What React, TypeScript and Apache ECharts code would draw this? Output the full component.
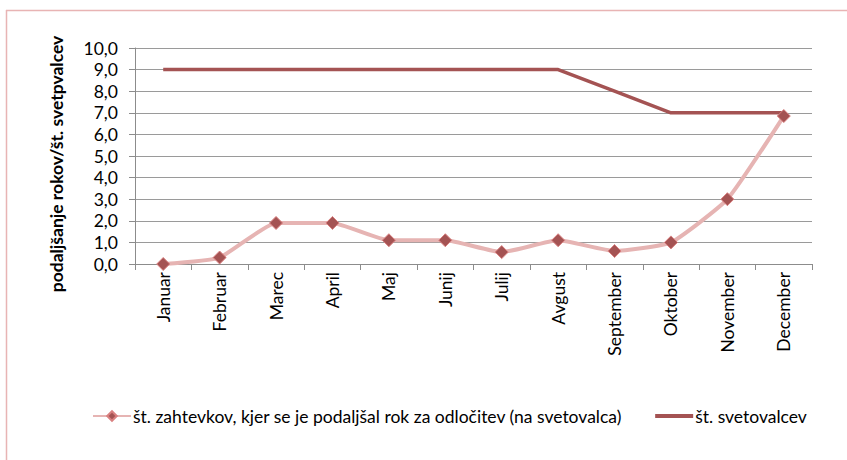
import React, { useEffect, useRef } from "react";
import * as echarts from "echarts";

const categories = ["Januar", "Februar", "Marec", "April", "Maj", "Junij", "Julij", "Avgust", "September", "Oktober", "November", "December"];
const zahtevki = [0, 0.3, 1.9, 1.9, 1.1, 1.1, 0.55, 1.1, 0.6, 1.0, 3.0, 6.85];
const svetovalci = [9, 9, 9, 9, 9, 9, 9, 9, 8, 7, 7, 7];
const seriesNames = ["št. zahtevkov, kjer se je podaljšal rok za odločitev (na svetovalca)", "št. svetovalcev"];
const yAxisName = "podaljšanje rokov/št. svetpvalcev";

const FONT = "Lato";

export default function App() {
  const ref = useRef<HTMLDivElement>(null);
  useEffect(() => {
    const chart = echarts.init(ref.current!, null, { renderer: "svg" });
    chart.setOption({
      animation: false,
      textStyle: { fontFamily: FONT },
      graphic: [
        {
          type: "line",
          shape: { x1: 6, y1: 10.5, x2: 847, y2: 10.5 },
          style: { stroke: "#E8B4B4", lineWidth: 1.5 },
          silent: true,
        },
        {
          type: "line",
          shape: { x1: 6.5, y1: 10, x2: 6.5, y2: 460 },
          style: { stroke: "#E8B4B4", lineWidth: 1.5 },
          silent: true,
        },
        {
          type: "text",
          x: 56,
          y: 164,
          rotation: Math.PI / 2,
          style: {
            text: yAxisName,
            fontFamily: FONT,
            fontSize: 17.5,
            fontWeight: "bold",
            fill: "#000",
            align: "center",
            verticalAlign: "middle",
          },
          silent: true,
        },
      ],
      grid: { left: 135, right: 35, top: 48, bottom: 196, containLabel: false },
      legend: {
        top: 402,
        left: 87,
        itemWidth: 38,
        itemHeight: 12,
        itemGap: 33,
        textStyle: { fontFamily: FONT, fontSize: 17.5, color: "#000", padding: [0, 0, 0, -3] },
        data: [
          { name: seriesNames[0] },
          { name: seriesNames[1], icon: "path://M0,0 L38,0 L38,4 L0,4 Z", itemStyle: { color: "#A45353" } },
        ],
      },
      xAxis: {
        type: "category",
        data: categories,
        boundaryGap: true,
        axisLine: { lineStyle: { color: "#8C8C8C", width: 1 } },
        axisTick: { show: true, length: 6, interval: 0, lineStyle: { color: "#8C8C8C" } },
        axisLabel: {
          rotate: 90,
          interval: 0,
          margin: 8,
          color: "#000",
          fontSize: 17.5,
          fontFamily: FONT,
        },
      },
      yAxis: {
        type: "value",
        min: 0,
        max: 10,
        interval: 1,
        axisLine: { show: true, lineStyle: { color: "#8C8C8C" } },
        axisTick: { show: true, length: 6, lineStyle: { color: "#8C8C8C" } },
        splitLine: { lineStyle: { color: "#9A9A9A", width: 1 } },
        axisLabel: {
          color: "#000",
          fontSize: 17.5,
          fontFamily: FONT,
          margin: 17,
          formatter: (v: number) => v.toFixed(1).replace(".", ","),
        },
      },
      series: [
        {
          name: seriesNames[0],
          type: "line",
          data: zahtevki,
          smooth: 0.15,
          symbol: "diamond",
          symbolSize: 13,
          lineStyle: { color: "#E6B4B3", width: 4 },
          itemStyle: { color: "#A45353", borderColor: "#D98080", borderWidth: 1 },
          z: 3,
        },
        {
          name: seriesNames[1],
          type: "line",
          data: svetovalci,
          symbol: "none",
          lineStyle: { color: "#A45353", width: 3.5 },
          itemStyle: { color: "#A45353" },
          z: 2,
        },
      ],
    });
    return () => chart.dispose();
  }, []);
  return <div ref={ref} style={{ width: 847, height: 460, position: "absolute", left: 0, top: 0 }} />;
}
